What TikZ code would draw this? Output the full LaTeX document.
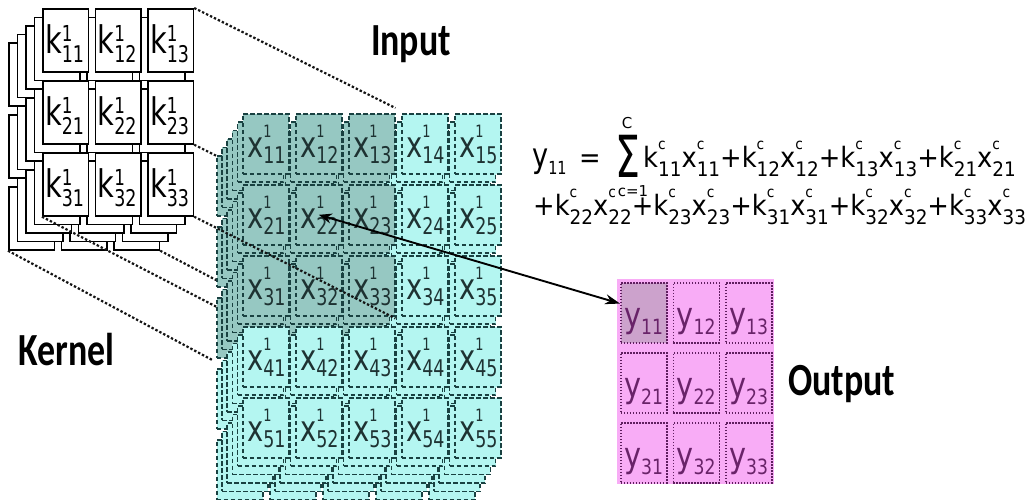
\documentclass[tikz,border=0pt]{standalone}
\usepackage{fontspec}
\setmainfont{DejaVu Sans}
\newfontfamily\labfont{Carlito}
\usetikzlibrary{arrows.meta,calc}

\definecolor{incol}{RGB}{180,246,241}
\definecolor{wincol}{RGB}{150,200,194}
\definecolor{inborder}{RGB}{25,65,65}
\definecolor{intext}{RGB}{30,50,50}
\definecolor{outcol}{RGB}{248,172,246}
\definecolor{outsel}{RGB}{204,162,204}
\definecolor{outborder}{RGB}{95,30,95}
\definecolor{outtext}{RGB}{105,35,105}
\definecolor{projcol}{RGB}{20,20,20}

\newcommand\supf{\fontsize{22pt}{22pt}\selectfont}
\newcommand\subf{\fontsize{22pt}{22pt}\selectfont}
\newcommand\supup{0.3em}
\newcommand\subdn{0.27em}
\newcommand\ssb[3]{#1\rlap{\raisebox{\supup}{\supf #2}}\raisebox{-\subdn}{\subf #3}}

\newcommand\kfont{\fontsize{38pt}{38pt}\selectfont
  \renewcommand\supf{\fontsize{22pt}{22pt}\selectfont}%
  \renewcommand\subf{\fontsize{23pt}{23pt}\selectfont}%
  \renewcommand\supup{0.3em}\renewcommand\subdn{0.26em}}
\newcommand\xfont{\fontsize{36pt}{36pt}\selectfont
  \renewcommand\supf{\fontsize{17pt}{17pt}\selectfont}%
  \renewcommand\subf{\fontsize{23pt}{23pt}\selectfont}%
  \renewcommand\supup{0.55em}\renewcommand\subdn{0.17em}}
\newcommand\yfont{\fontsize{35pt}{35pt}\selectfont
  \renewcommand\subf{\fontsize{21pt}{21pt}\selectfont}%
  \renewcommand\subdn{0.22em}}
\newcommand\eqfont{\fontsize{28pt}{28pt}\selectfont
  \renewcommand\supf{\fontsize{15pt}{15pt}\selectfont}%
  \renewcommand\subf{\fontsize{20pt}{20pt}\selectfont}%
  \renewcommand\supup{0.62em}\renewcommand\subdn{0.34em}}
\newcommand\eqyfont{\fontsize{34pt}{34pt}\selectfont
  \renewcommand\subf{\fontsize{18pt}{18pt}\selectfont}%
  \renewcommand\subdn{0.22em}}

\pgfdeclarelayer{kern}
\pgfdeclarelayer{hid}
\pgfsetlayers{kern,hid,main}

\tikzset{
  kcell/.style={draw=black, line width=1.7pt, fill=white, minimum width=45.5pt,
    minimum height=63pt, inner sep=0pt, anchor=north west},
  icell/.style={draw=inborder, line width=1.6pt, dash pattern=on 4.5pt off 2.5pt,
    minimum width=46pt, minimum height=60pt, inner sep=0pt, anchor=north west},
  winbox/.style={minimum width=156pt, minimum height=210pt,
    inner sep=0pt, anchor=north west},
  ocell/.style={draw=outborder, line width=1.6pt, dash pattern=on 1.4pt off 1.6pt,
    fill=outcol, minimum width=46pt, minimum height=60pt, inner sep=0pt, anchor=north west},
  obg/.style={fill=outcol, minimum width=157pt, minimum height=205pt, inner sep=0pt,
    anchor=north west},
  klab/.style={font=\kfont, inner sep=0pt, xscale=0.76, anchor=base west},
  xlab/.style={font=\xfont, text=intext, inner sep=0pt, xscale=0.76, anchor=base west},
  ylab/.style={font=\yfont, text=outtext, inner sep=0pt, xscale=0.82, anchor=base west},
  eqtext/.style={font=\eqfont, inner sep=0pt, xscale=0.92, anchor=base west},
  eqy/.style={font=\eqyfont, inner sep=0pt, xscale=0.8, anchor=base west},
  eqsmall/.style={font=\fontsize{15pt}{15pt}\selectfont, inner sep=0pt},
  sigma/.style={font=\fontsize{58pt}{58pt}\selectfont, inner sep=0pt, xscale=0.68},
  title/.style={font=\labfont\bfseries\fontsize{46pt}{46pt}\selectfont, inner sep=0pt,
    xscale=0.78, anchor=base},
  proj/.style={draw=projcol, line width=2.2pt, dash pattern=on 2.4pt off 2pt},
  link/.style={draw=black, line width=1.9pt,
    {Stealth[length=13pt,width=10pt]}-{Stealth[length=15pt,width=10pt]}},
}

\begin{document}
\begin{tikzpicture}[x=1pt,y=-1pt]
\useasboundingbox (0,0) rectangle (1033,499);

% ---------- kernel stack ----------
\begin{pgfonlayer}{kern}
\foreach \l in {4,3,2,1,0}{
  \foreach \i in {1,2,3}{
    \foreach \j in {1,2,3}{
      \node[kcell] (k-\l-\i-\j) at ({42+52.5*(\j-1)-8.5*\l},{8+72*(\i-1)+8.5*\l}) {};
    }
  }
}
\foreach \i in {1,2,3}{
  \foreach \j in {1,2,3}{
    \node[klab] (kt-\i-\j) at ({42+52.5*(\j-1)+3},{8+72*(\i-1)+45}) {\ssb{k}{1}{\i\j}};
  }
}
\end{pgfonlayer}

% ---------- input stack ----------
\foreach \l in {5,4,3,2,1,0}{
  \node[winbox] (win-\l) at ({239-5.2*\l},{108+8.4*\l}) {};
  \foreach \i in {1,2,3,4,5}{
    \foreach \j in {1,2,3,4,5}{
      \pgfmathtruncatemacro\sh{and(\i<4,\j<4)}
      \ifnum\sh=1 \def\cf{wincol}\else\def\cf{incol}\fi
      \node[icell, fill=\cf] (x-\l-\i-\j) at ({242+53*(\j-1)-5.2*\l},{113+71*(\i-1)+8.4*\l}) {};
    }
  }
}
\foreach \i in {1,2,3,4,5}{
  \foreach \j in {1,2,3,4,5}{
    \node[xlab] (xt-\i-\j) at ({242+53*(\j-1)+5},{113+71*(\i-1)+44}) {\ssb{x}{1}{\i\j}};
  }
}

% ---------- projection lines ----------
\begin{pgfonlayer}{hid}
\draw[proj] (k-0-2-3.south east) -- (x-0-2-3.south east);
\draw[proj] (k-0-3-1.south west) -- (win-0.south west);
\draw[proj] (k-4-3-3.south east) -- (win-5.south east);
\draw[proj] (k-4-3-1.south west) -- (win-5.south west);
\end{pgfonlayer}
\draw[proj] (k-0-1-3.north east) -- (win-0.north east);
\draw[proj] (k-0-3-3.south east) -- (win-0.south east);

% ---------- output ----------
\node[obg] (obg) at (617,279) {};
\foreach \i in {1,2,3}{
  \foreach \j in {1,2,3}{
    \node[ocell] (y-\i-\j) at ({620+52.5*(\j-1)},{282+70*(\i-1)}) {};
  }
}
\node[ocell, fill=outsel] (y-1-1) at (620,282) {};
\foreach \i in {1,2,3}{
  \foreach \j in {1,2,3}{
    \node[ylab] (yt-\i-\j) at ({620+52.5*(\j-1)+4},{282+70*(\i-1)+45}) {\ssb{y}{}{\i\j}};
  }
}

% ---------- connector ----------
\coordinate (yin) at ($(y-1-1.north west)!0.35!(y-1-1.south west)$);
\draw[link] (x-0-2-2.center) -- (yin);

% ---------- equation ----------
\node[eqy] (eq-y) at (532,167) {\ssb{y}{}{11}};
\node[eqtext] (eq-eq) at (579,167) {=};
\node[sigma] (eq-sig) at (628,156) {Σ};
\node[eqsmall] (eq-C) at (627,123) {C};
\node[eqsmall] (eq-c1) at (633,191) {c=1};
\node[eqtext] (eq-l1) at (643,167) {\ssb{k}{c}{11}\ssb{x}{c}{11}+\ssb{k}{c}{12}\ssb{x}{c}{12}+\ssb{k}{c}{13}\ssb{x}{c}{13}+\ssb{k}{c}{21}\ssb{x}{c}{21}};
\node[eqtext] (eq-l2) at (533,215) {+\ssb{k}{c}{22}\ssb{x}{c}{22}+\ssb{k}{c}{23}\ssb{x}{c}{23}+\ssb{k}{c}{31}\ssb{x}{c}{31}+\ssb{k}{c}{32}\ssb{x}{c}{32}+\ssb{k}{c}{33}\ssb{x}{c}{33}};

% ---------- titles ----------
\node[title] (t-in) at (411,55) {Input};
\node[title] (t-ker) at (66.5,365) {Kernel};
\node[title] (t-out) at (841.5,395) {Output};
\end{tikzpicture}
\end{document}
